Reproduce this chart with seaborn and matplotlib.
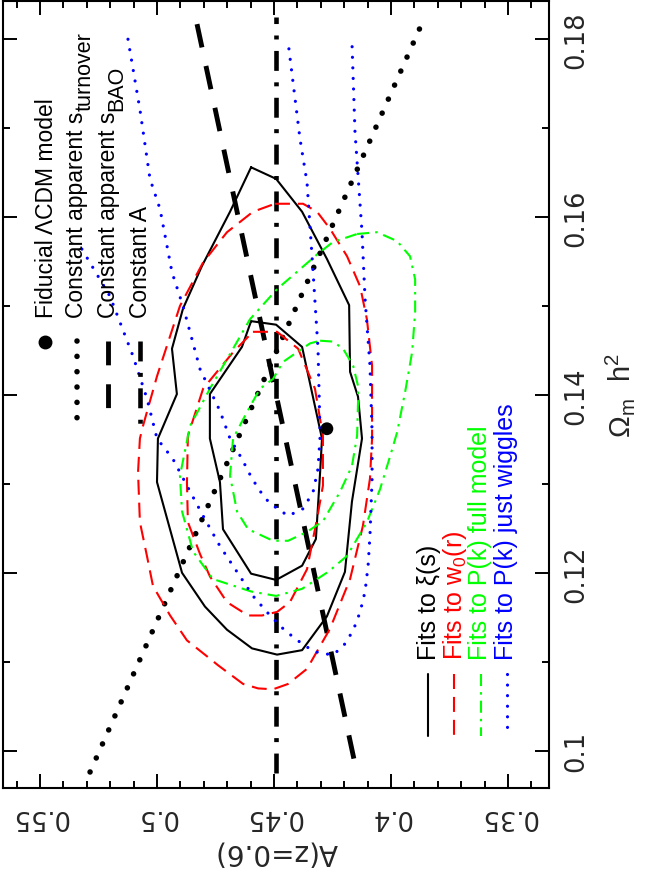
import matplotlib
matplotlib.use("Agg")
import matplotlib.pyplot as plt
from matplotlib.ticker import MultipleLocator
import seaborn as sns

# --- axis ranges and ticks (A(z=0.6) runs right-to-left, Omega_m h^2 bottom-to-top)
A_LIM = (0.5658, 0.3325)
OM_LIM = (0.0958, 0.1843)
a_ticks = [0.35, 0.40, 0.45, 0.50, 0.55]
a_tick_labels = ["0.35", "0.4", "0.45", "0.5", "0.55"]
om_ticks = [0.10, 0.12, 0.14, 0.16, 0.18]
om_tick_labels = ["0.1", "0.12", "0.14", "0.16", "0.18"]

# --- fiducial LCDM model
fid_A = [0.4274]
fid_om = [0.1362]

# --- degeneracy lines
turnover_A = [0.5286, 0.3876]
turnover_om = [0.0976, 0.1813]
bao_A = [0.4829, 0.4145]
bao_om = [0.1817, 0.0974]
constA_A = [0.449, 0.449]
constA_om = [0.0975, 0.1825]

# --- fits to xi(s): black solid
xi_out_A = [0.4598, 0.4491, 0.4380, 0.4274, 0.4179, 0.4175, 0.4141, 0.4124, 0.4167, 0.4197,
            0.4274, 0.4380, 0.4487, 0.4594, 0.4701, 0.4795, 0.4893, 0.5000, 0.4996, 0.4915,
            0.4936, 0.4889, 0.4808, 0.4688]
xi_out_om = [0.1656, 0.1643, 0.1606, 0.1553, 0.1501, 0.1426, 0.1398, 0.1351, 0.1280, 0.1201,
             0.1151, 0.1113, 0.1108, 0.1115, 0.1136, 0.1162, 0.1200, 0.1302, 0.1351, 0.1401,
             0.1452, 0.1497, 0.1545, 0.1606]
xi_in_A = [0.4598, 0.4491, 0.4380, 0.4295, 0.4303, 0.4321, 0.4380, 0.4491, 0.4598, 0.4718,
           0.4731, 0.4774, 0.4774, 0.4637]
xi_in_om = [0.1483, 0.1479, 0.1454, 0.1351, 0.1313, 0.1238, 0.1208, 0.1192, 0.1199, 0.1249,
            0.1302, 0.1351, 0.1401, 0.1454]

# --- fits to w0(r): red dashed
w0_out_A = [0.4496, 0.4376, 0.4316, 0.4261, 0.4188, 0.4132, 0.4103, 0.4081, 0.4081, 0.4090,
            0.4120, 0.4175, 0.4261, 0.4359, 0.4440, 0.4504, 0.4568, 0.4632, 0.4739, 0.4786,
            0.4872, 0.4944, 0.5017, 0.5043, 0.5073, 0.5081, 0.5073, 0.5060, 0.5000, 0.4902,
            0.4803, 0.4701, 0.4590]
w0_out_om = [0.1615, 0.1615, 0.1606, 0.1587, 0.1556, 0.1522, 0.1485, 0.1433, 0.1351, 0.1306,
             0.1253, 0.1193, 0.1137, 0.1092, 0.1075, 0.1069, 0.1070, 0.1075, 0.1096, 0.1106,
             0.1124, 0.1152, 0.1185, 0.1219, 0.1257, 0.1313, 0.1351, 0.1365, 0.1421, 0.1500,
             0.1549, 0.1583, 0.1606]
w0_in_A = [0.4590, 0.4487, 0.4397, 0.4325, 0.4291, 0.4291, 0.4316, 0.4359, 0.4432, 0.4487,
           0.4551, 0.4611, 0.4701, 0.4774, 0.4816, 0.4868, 0.4872, 0.4868, 0.4803, 0.4675]
w0_in_om = [0.1471, 0.1471, 0.1452, 0.1407, 0.1354, 0.1298, 0.1261, 0.1204, 0.1167, 0.1156,
            0.1152, 0.1152, 0.1167, 0.1196, 0.1221, 0.1257, 0.1302, 0.1354, 0.1407, 0.1448]

# --- fits to P(k) full model: green dash-dot
pk_out_A = [0.4145, 0.4060, 0.3974, 0.3919, 0.3897, 0.3897, 0.3910, 0.3940, 0.3974, 0.4004,
            0.4047, 0.4103, 0.4188, 0.4269, 0.4380, 0.4491, 0.4598, 0.4761, 0.4846, 0.4893,
            0.4902, 0.4859, 0.4774, 0.4675, 0.4603, 0.4487, 0.4316, 0.4248]
pk_out_om = [0.1581, 0.1583, 0.1573, 0.1556, 0.1530, 0.1493, 0.1448, 0.1403, 0.1358, 0.1331,
             0.1294, 0.1257, 0.1219, 0.1201, 0.1182, 0.1174, 0.1179, 0.1193, 0.1224, 0.1269,
             0.1309, 0.1365, 0.1407, 0.1452, 0.1485, 0.1519, 0.1558, 0.1572]
pk_in_A = [0.4303, 0.4248, 0.4205, 0.4162, 0.4141, 0.4141, 0.4145, 0.4167, 0.4218, 0.4291,
           0.4359, 0.4440, 0.4504, 0.4611, 0.4658, 0.4688, 0.4675, 0.4615, 0.4560, 0.4504,
           0.4462, 0.4402, 0.4346]
pk_in_om = [0.1461, 0.1460, 0.1452, 0.1433, 0.1410, 0.1392, 0.1354, 0.1320, 0.1291, 0.1258,
            0.1246, 0.1236, 0.1236, 0.1249, 0.1269, 0.1309, 0.1351, 0.1381, 0.1407, 0.1418,
            0.1437, 0.1448, 0.1458]

# --- fits to P(k) just wiggles: blue dotted (open contours)
wig_out_A = [0.5321, 0.5201, 0.5103, 0.5043, 0.5000, 0.4932, 0.4872, 0.4803, 0.4731, 0.4658,
             0.4590, 0.4517, 0.4453, 0.4389, 0.4333, 0.4291, 0.4248, 0.4205, 0.4162, 0.4132,
             0.4111, 0.4098, 0.4090, 0.4081, 0.4081, 0.4090, 0.4111, 0.4124, 0.4154, 0.4167]
wig_out_om = [0.1564, 0.1511, 0.1444, 0.1396, 0.1351, 0.1328, 0.1298, 0.1264, 0.1230, 0.1201,
              0.1174, 0.1152, 0.1135, 0.1122, 0.1112, 0.1109, 0.1108, 0.1117, 0.1135, 0.1156,
              0.1179, 0.1208, 0.1242, 0.1306, 0.1358, 0.1433, 0.1508, 0.1583, 0.1696, 0.1797]
wig_in_A = [0.5124, 0.5073, 0.5030, 0.4987, 0.4936, 0.4889, 0.4816, 0.4731, 0.4688, 0.4637,
            0.4594, 0.4547, 0.4517, 0.4440, 0.4376, 0.4333, 0.4312, 0.4303, 0.4312, 0.4333,
            0.4359, 0.4389, 0.4440]
wig_in_om = [0.1800, 0.1721, 0.1643, 0.1609, 0.1538, 0.1500, 0.1429, 0.1382, 0.1351, 0.1328,
             0.1306, 0.1287, 0.1278, 0.1264, 0.1272, 0.1291, 0.1317, 0.1354, 0.1452, 0.1538,
             0.1639, 0.1688, 0.1797]

# --- legend texts
top_labels = ["Fiducial \u039bCDM model", "Constant apparent s",
              "Constant apparent s", "Constant A"]
top_subscripts = ["", "turnover", "BAO", ""]
fits_labels = ["Fits to \u03be(s)", r"Fits to w$_{0}$(r)",
               "Fits to P(k) full model", "Fits to P(k) just wiggles"]
fits_colors = ["black", "red", "#00ff00", "blue"]

GREEN = "#00ff00"
RED = "#ff0000"
BLUE = "#0000ff"
LEG_FONT = ["Liberation Sans", "DejaVu Sans"]

sns.set_style("ticks")
plt.rcParams["font.family"] = ["DejaVu Sans"]
plt.rcParams["mathtext.fontset"] = "custom"
plt.rcParams["mathtext.rm"] = "Liberation Sans"
plt.rcParams["mathtext.it"] = "Liberation Sans:italic"
plt.rcParams["mathtext.bf"] = "Liberation Sans:bold"

# line styles
STYLE_SOLID = dict(color="black", lw=1.5, linestyle="-")
STYLE_RED = dict(color=RED, lw=1.5, linestyle=(0, (7.2, 3.8)))
STYLE_GREEN = dict(color=GREEN, lw=1.5, linestyle=(0, (5.8, 2.9, 1.2, 2.9)))
STYLE_BLUE = dict(color=BLUE, lw=2.3, linestyle=(0, (0.01, 3.3)), dash_capstyle="round")
STYLE_TURN = dict(color="black", lw=4.0, linestyle=(0, (0.01, 2.75)), dash_capstyle="round")
STYLE_BAO = dict(color="black", lw=3.5, linestyle=(0, (4.9, 3.9)))
STYLE_CONSTA = dict(color="black", lw=3.3, linestyle=(0, (4.35, 2.5, 0.87, 2.5)))


def closed(vals):
    return list(vals) + [vals[0]]


def draw(ax, a, om, style):
    sns.lineplot(x=a, y=om, sort=False, estimator=None, legend=False, ax=ax, **style)


fig = plt.figure(figsize=(6.57, 8.79), dpi=100)
ax = fig.add_axes([3 / 657, 90 / 879, 546 / 657, 787 / 879])

# degeneracy lines
draw(ax, turnover_A, turnover_om, STYLE_TURN)
draw(ax, bao_A, bao_om, STYLE_BAO)
draw(ax, constA_A, constA_om, STYLE_CONSTA)

# contours
draw(ax, closed(xi_out_A), closed(xi_out_om), STYLE_SOLID)
draw(ax, closed(xi_in_A), closed(xi_in_om), STYLE_SOLID)
draw(ax, closed(w0_out_A), closed(w0_out_om), STYLE_RED)
draw(ax, closed(w0_in_A), closed(w0_in_om), STYLE_RED)
draw(ax, closed(pk_out_A), closed(pk_out_om), STYLE_GREEN)
draw(ax, closed(pk_in_A), closed(pk_in_om), STYLE_GREEN)
draw(ax, wig_out_A, wig_out_om, STYLE_BLUE)
draw(ax, wig_in_A, wig_in_om, STYLE_BLUE)

sns.scatterplot(x=fid_A, y=fid_om, s=85, color="black", edgecolor="none", ax=ax, zorder=5)

# axes
ax.set_xlim(*A_LIM)
ax.set_ylim(*OM_LIM)
ax.set_xticks(a_ticks)
ax.set_xticklabels(a_tick_labels)
ax.set_yticks(om_ticks)
ax.set_yticklabels(om_tick_labels)
ax.xaxis.set_minor_locator(MultipleLocator(0.01))
ax.yaxis.set_minor_locator(MultipleLocator(0.01))
ax.tick_params(which="both", direction="in", top=True, bottom=True, left=True, right=True,
               labelleft=False, labelright=True, width=1.4, color="black")
ax.tick_params(which="major", length=10)
ax.tick_params(which="minor", length=5)
ax.tick_params(axis="x", labelrotation=180, pad=11, labelsize=18.5)
ax.tick_params(axis="y", labelrotation=90, pad=10, labelsize=18.5)
for lbl in ax.get_yticklabels():
    lbl.set_va("center")
for sp in ax.spines.values():
    sp.set_visible(True)
    sp.set_linewidth(1.5)
    sp.set_color("black")

ax.set_xlabel("A(z=0.6)", rotation=180, fontsize=20, labelpad=6)
ax.yaxis.set_label_position("right")
ax.set_ylabel(r"$\Omega_{\mathrm{m}}\ \ \mathrm{h}^{2}$", rotation=90, fontsize=21, labelpad=10)

# legend, upper block (reads bottom-to-top)
top_base_x = [0.0916, 0.1465, 0.2051, 0.2637]
for lab, sub, bx in zip(top_labels, top_subscripts, top_base_x):
    t = ax.text(bx, 0.5985, lab, transform=ax.transAxes, rotation=90, rotation_mode="anchor",
                ha="left", va="baseline", fontsize=16.5, color="black", family=LEG_FONT)
    if sub:
        # PGPLOT-style subscript: nearly full size, dropped below the baseline
        ax.annotate(sub, xy=(1, 1), xycoords=t, xytext=(1.8, 0.5), textcoords="offset points",
                    rotation=90, rotation_mode="anchor", ha="left", va="baseline",
                    fontsize=15.5, color="black", family=LEG_FONT)
ax.plot([0.0769], [0.5667], "o", ms=9, color="black", transform=ax.transAxes)
key_y = [0.568, 0.4625]
ax.plot([0.1355, 0.1355], key_y, transform=ax.transAxes, **STYLE_TURN)
ax.plot([0.1923, 0.1923], key_y, transform=ax.transAxes, **STYLE_BAO)
ax.plot([0.2509, 0.2509], key_y, transform=ax.transAxes, **STYLE_CONSTA)

# legend, lower block
fit_base_x = [0.7930, 0.8407, 0.8864, 0.9341]
fit_key_x = [0.7784, 0.8260, 0.8755, 0.9231]
fit_styles = [STYLE_SOLID, STYLE_RED, STYLE_GREEN, STYLE_BLUE]
for lab, col, bx, kx, st in zip(fits_labels, fits_colors, fit_base_x, fit_key_x, fit_styles):
    ax.text(bx, 0.1639, lab, transform=ax.transAxes, rotation=90, rotation_mode="anchor",
            ha="left", va="baseline", fontsize=18, color=col, family=LEG_FONT)
    ax.plot([kx, kx], [0.1449, 0.0661], transform=ax.transAxes, **st)

fig.savefig("out.png", dpi=100)
